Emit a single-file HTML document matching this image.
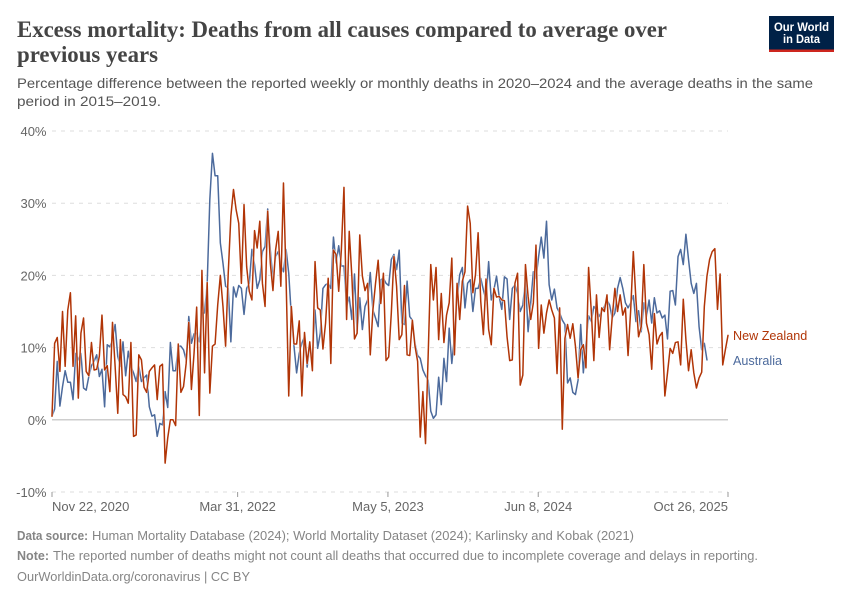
<!DOCTYPE html>
<html>
<head>
<meta charset="utf-8">
<title>Excess mortality</title>
<style>
html,body{margin:0;padding:0;background:#fff;}
svg{display:block;font-family:"Liberation Sans",sans-serif;}
</style>
</head>
<body>
<svg id="chart" width="850" height="600" viewBox="0 0 850 600" xmlns="http://www.w3.org/2000/svg">
  <rect x="0" y="0" width="850" height="600" fill="#ffffff"/>
  <g fill="#444444" font-family="'Liberation Serif',serif" font-weight="700" font-size="23">
    <text x="17" y="37" textLength="650" lengthAdjust="spacingAndGlyphs">Excess mortality: Deaths from all causes compared to average over</text>
    <text x="17" y="62" textLength="141" lengthAdjust="spacingAndGlyphs">previous years</text>
  </g>
  <g fill="#555555" font-size="14">
    <text x="17" y="88" textLength="796" lengthAdjust="spacingAndGlyphs">Percentage difference between the reported weekly or monthly deaths in 2020–2024 and the average deaths in the same</text>
    <text x="17" y="106" textLength="144" lengthAdjust="spacingAndGlyphs">period in 2015–2019.</text>
  </g>
  <g>
    <rect x="769" y="16" width="65" height="36" fill="#002147"/>
    <rect x="769" y="49.5" width="65" height="2.5" fill="#CE261E"/>
    <text x="801.5" y="31" fill="#ffffff" font-size="12" font-weight="700" text-anchor="middle" textLength="55" lengthAdjust="spacingAndGlyphs">Our World</text>
    <text x="801.5" y="43" fill="#ffffff" font-size="12" font-weight="700" text-anchor="middle" textLength="37" lengthAdjust="spacingAndGlyphs">in Data</text>
  </g>
  <g id="grid"></g>
  <g id="x-axis"></g>
  <g id="series"></g>
  <g fill="#858585" font-size="13">
    <text x="17" y="540" font-weight="700" textLength="71" lengthAdjust="spacingAndGlyphs">Data source:</text>
    <text x="92" y="540" textLength="542" lengthAdjust="spacingAndGlyphs">Human Mortality Database (2024); World Mortality Dataset (2024); Karlinsky and Kobak (2021)</text>
    <text x="17" y="560" font-weight="700" textLength="32" lengthAdjust="spacingAndGlyphs">Note:</text>
    <text x="53" y="560" textLength="705" lengthAdjust="spacingAndGlyphs">The reported number of deaths might not count all deaths that occurred due to incomplete coverage and delays in reporting.</text>
    <text x="17" y="581" textLength="233" lengthAdjust="spacingAndGlyphs">OurWorldinData.org/coronavirus | CC BY</text>
  </g>
</svg>
<script>
const yTicks = [40, 30, 20, 10, 0, -10];
const xTickDates = ["2020-11-22", "2022-03-31", "2023-05-05", "2024-06-08", "2025-10-26"];
const xTickLabels = ["Nov 22, 2020", "Mar 31, 2022", "May 5, 2023", "Jun 8, 2024", "Oct 26, 2025"];
const seriesNames = ["Australia", "New Zealand"];
const firstWeek = "2020-11-22";
const lastWeek = "2025-10-26";

const newZealand = [
0.5,10.6,11.4,6.7,15,7.4,15.2,17.6,7.4,14.4,3,12,14.1,6.7,6.1,10.7,6.9,7,8.8,14.5,
6.9,7.5,3.9,13.5,7.4,0.9,11.1,3.5,3.2,2.3,10.7,-2.3,-2.1,9,8.3,4.5,3.8,6.7,7.2,7.6,
2.8,7.4,7.7,-6,-2.5,0,0,-0.8,10.5,3.8,4.6,7.8,13.5,4.2,9.2,15.6,0.6,20.7,6.5,19,
3.7,10.2,10.5,15.9,20,
15.7,10.2,20.3,28.2,31.9,29.1,27.2,18.9,29.8,21.2,17.8,16.6,26.2,23.8,27.5,18.9,15.7,28.9,21.7,17.9,
23.5,26.1,18.5,32.8,19.4,3.3,15.7,10.5,10.5,13.7,3.3,12.1,7.8,10.8,6.8,21.9,15.5,15.2,9.8,13.4,
19.6,7.8,23.5,22.9,17.8,23.5,32.2,13.9,26.1,19.9,11.2,12,25.6,19.9,17.9,18.9,9,15.2,18.9,22.1,
16.1,20.3,8.2,8.7,
14.8,22.6,18.5,11.1,11.8,18.6,9,8.9,13.8,10.2,8.1,-2.4,3.9,-3.3,8.8,21.5,16.6,21.1,11.1,17.5,
10.7,14.5,16.2,22.4,9,18.9,13.9,19.2,20.5,29.6,27.2,17.6,20.1,25.9,16.4,11.8,19.5,12.5,10.4,18.2,
17,17.1,16.6,16.5,11.5,8.2,8.3,18.9,20.3,4.8,6.2,21.5,17.1,13.9,16.2,24.2,9.9,15.9,12,14.8,
16.6,15.2,14.1,6.4,15.5,
-1.3,11.3,13.2,11.3,13.3,10.2,5.8,9.7,10.4,7.2,21.1,15.2,8.2,17.3,11.4,15.5,15,17.3,9.7,14.3,
18.2,15,17.3,14.5,15.5,8.9,15.2,23.3,16.6,11.5,12.9,21.5,13.4,11.8,7,14.7,10.5,11.6,12.1,3.3,
6.5,9.9,9.2,10.7,10.8,7.6,16.7,11.1,6.8,9.7,6.5,4.4,5.8,6.6,15.7,19.9,22.2,23.3,23.7,15.3,
20.2,7.6,9.7,11.7
];

const australia = [
0.5,1.5,8.1,1.9,4.6,6.8,5.2,5.2,2.8,9.2,8.3,9.2,4.4,4.1,6,7.5,8.1,9,6,7,
1.8,10.4,10.1,11.1,13.2,8.8,7.4,10.8,6.1,9.5,7.4,6.5,5.3,7.4,5.3,5.8,6.2,1.8,0.5,0.7,
-2.3,-0.5,-0.7,3.9,1.7,10.7,6.8,6.8,10.2,10.2,9.7,8.3,14.3,10.6,11.9,12,10.8,14.8,14.8,18.9,
30.5,36.9,33.8,33.8,24.5,
21.7,18.5,18.2,10.8,18.4,17,18.6,18.2,14.6,18.2,18.9,23.6,21.5,18.2,19.4,23.3,24,29.2,23.5,19.4,
22.6,23.3,21.5,20.5,23.6,20.3,14.3,10.2,6.5,9.2,10.6,11.5,7.3,10.2,8.3,15.2,9.9,12,18.2,18.7,
18.9,18.2,25.3,21.7,24.1,21.3,21.3,15.7,17,13.9,20.2,12,16.9,12.5,15.7,16.6,20.4,15.2,14.1,12.9,
19.4,19.6,18.9,18.6,
22.2,22.9,20.8,23.5,13.4,13.2,19.2,14.3,13.8,10.6,8.9,8.5,6.9,6.1,5.5,1.2,0.2,0.7,5.9,2.1,
8.5,5.3,12.7,7.8,11.5,16.6,20.1,21.1,15.5,18.9,19.4,15,18.2,18.2,19.6,18,16.6,21.9,16.6,18,
19.9,17.1,15.3,19.8,19.5,13.9,18.2,18.7,17.5,15,15.9,19.4,12.2,16.2,20.5,19.6,22.6,25.3,22.4,27.5,
18.7,16.6,18.1,15.5,
14.8,13.8,13.2,5.1,5.8,3.8,3.5,5.5,13.2,6.5,10.6,14.4,13.6,15.7,15.2,14.3,15,15.7,16.6,15.9,
14.1,14.8,18.2,19.7,18.2,16.2,15.5,16.2,17.2,13.6,15.1,12.2,16.2,14.3,16.6,13.4,16.9,14.8,15.1,14.1,
14.5,11.2,17.8,17.9,15.9,22.6,23.6,21.5,25.7,22.2,18.9,17.5,18.9,12.9,9.7,10.6,8.3
];

const NS = "http://www.w3.org/2000/svg";
const plotLeft = 52, plotRight = 728, plotTop = 131, plotBottom = 492;
const yMin = -10, yMax = 40;
const dayMs = 86400000;
const startMs = Date.parse(firstWeek);
const endMs = Date.parse(lastWeek);

function xScaleMs(ms) {
  return plotLeft + (ms - startMs) / (endMs - startMs) * (plotRight - plotLeft);
}
function xScaleWeek(i) {
  return xScaleMs(startMs + i * 7 * dayMs);
}
function yScale(v) {
  return plotBottom - (v - yMin) / (yMax - yMin) * (plotBottom - plotTop);
}
function make(tag, attrs, text) {
  const el = document.createElementNS(NS, tag);
  for (const k in attrs) el.setAttribute(k, attrs[k]);
  if (text !== undefined) el.textContent = text;
  return el;
}

const grid = document.getElementById("grid");
yTicks.forEach(function (t) {
  const y = yScale(t);
  const line = make("line", {
    x1: plotLeft, x2: plotRight, y1: y, y2: y,
    stroke: t === 0 ? "#bdbdbd" : "#dddddd",
    "stroke-width": t === 0 ? 1.2 : 1,
    "stroke-dasharray": t === 0 ? "none" : "4 5"
  });
  
  
  grid.appendChild(line);
  const label = make("text", {
    x: 46.5, y: y + 5, "text-anchor": "end", fill: "#666666", "font-size": 13
  }, t + "%");
  
  
  grid.appendChild(label);
});

const xAxis = document.getElementById("x-axis");
xTickDates.forEach(function (d, i) {
  const x = xScaleMs(Date.parse(d));
  const tick = make("line", {
    x1: x, x2: x, y1: plotBottom, y2: plotBottom + 5, stroke: "#999999", "stroke-width": 1
  });
  
  
  xAxis.appendChild(tick);
  const anchor = i === 0 ? "start" : (i === xTickDates.length - 1 ? "end" : "middle");
  const label = make("text", {
    x: x, y: 511, "text-anchor": anchor, fill: "#666666", "font-size": 13
  }, xTickLabels[i]);
  
  
  xAxis.appendChild(label);
});

function pathFor(values) {
  return values.map(function (v, i) {
    return (i === 0 ? "M" : "L") + xScaleWeek(i).toFixed(2) + " " + yScale(v).toFixed(2);
  }).join(" ");
}
const seriesGroup = document.getElementById("series");
function drawSeries(values, color, name, labelY) {
  const d = pathFor(values);
  const halo = make("path", {
    d: d, fill: "none", stroke: "#ffffff", "stroke-width": 2.5,
    "stroke-linejoin": "round", "stroke-linecap": "round", opacity: 0.7
  });
  
  
  seriesGroup.appendChild(halo);
  const line = make("path", {
    d: d, fill: "none", stroke: color, "stroke-width": 1.5,
    "stroke-linejoin": "round", "stroke-linecap": "round"
  });
  
  
  seriesGroup.appendChild(line);
  const label = make("text", {
    x: 733, y: labelY, fill: color, "font-size": 12.6
  }, name);
  
  
  seriesGroup.appendChild(label);
}
drawSeries(australia, "#4C6A9C", seriesNames[0], 365);
drawSeries(newZealand, "#B13507", seriesNames[1], 340);
</script>
</body>
</html>
